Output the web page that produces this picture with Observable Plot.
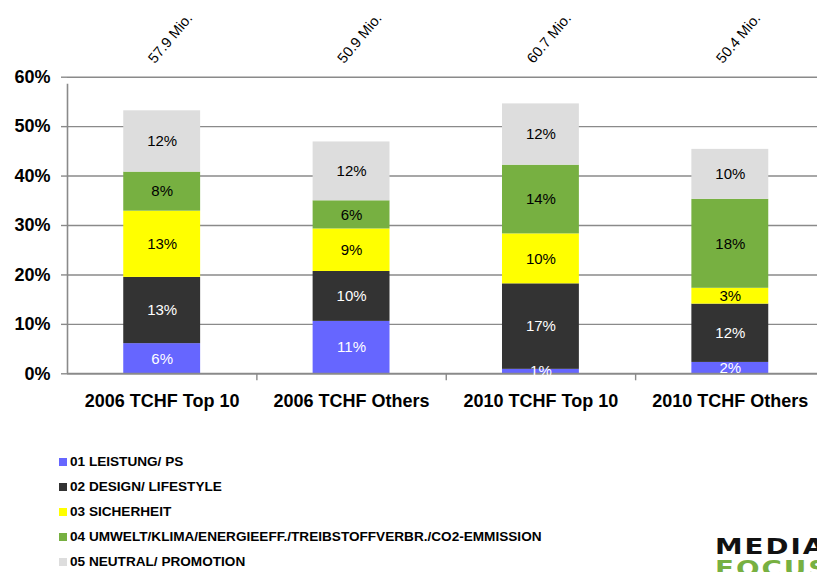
<!DOCTYPE html>
<html><head><meta charset="utf-8">
<script src="https://cdn.jsdelivr.net/npm/d3@7"></script>
<script src="https://cdn.jsdelivr.net/npm/@observablehq/plot@0.6"></script>
<style>
body{margin:0;background:#fff;font-family:"Liberation Sans",Arial,sans-serif;}
#wrap{position:relative;width:817px;height:572px;overflow:hidden;background:#fff;}
#chart{position:absolute;left:0;top:0;}
#legend{position:absolute;left:59px;top:449px;}
.item{height:25px;display:flex;align-items:center;font-size:13.6px;font-weight:bold;color:#000;white-space:nowrap;}
.sw{width:8px;height:8px;margin-right:3px;flex:none;}
.logo1{position:absolute;left:715px;top:535px;font-family:"DejaVu Sans",sans-serif;font-size:21px;letter-spacing:1.5px;color:#111;font-weight:600;transform:scaleX(1.32);transform-origin:left top;}
.logo2{position:absolute;left:715px;top:557px;font-family:"DejaVu Sans",sans-serif;font-size:21px;letter-spacing:1.5px;color:#77B041;font-weight:600;transform:scaleX(1.32);transform-origin:left top;}
</style>
</head><body>
<div id="wrap">
  <div id="chart"></div>
  <div id="legend"></div>
  <div class="logo1">MEDIA</div>
  <div class="logo2">FOCUS</div>
</div>
<script>
const categories = ["2006 TCHF Top 10", "2006 TCHF Others", "2010 TCHF Top 10", "2010 TCHF Others"];
const totals = ["57.9 Mio.", "50.9 Mio.", "60.7 Mio.", "50.4 Mio."];
const seriesNames = ["01 LEISTUNG/ PS", "02 DESIGN/ LIFESTYLE", "03 SICHERHEIT", "04 UMWELT/KLIMA/ENERGIEEFF./TREIBSTOFFVERBR./CO2-EMMISSION", "05 NEUTRAL/ PROMOTION"];
const seriesColors = ["#6666FF", "#333333", "#FFFF00", "#77B041", "#DDDDDD"];
const labelColors = ["#ffffff", "#ffffff", "#000000", "#000000", "#000000"];
const leistung = [6.1, 10.6, 0.9, 2.3];
const design = [13.4, 10.1, 17.3, 11.8];
const sicherheit = [13.4, 8.6, 10.1, 3.2];
const umwelt = [7.9, 5.7, 13.9, 18.0];
const neutral = [12.4, 11.9, 12.4, 10.1];
const yTicks = [0, 10, 20, 30, 40, 50, 60];

const seriesValues = [leistung, design, sicherheit, umwelt, neutral];
const rows = [];
categories.forEach((c, i) => {
  let acc = 0;
  seriesValues.forEach((vals, s) => {
    const v = vals[i];
    rows.push({i, cat: c, s, value: v, y1: acc, y2: acc + v});
    acc += v;
  });
});

const hw = 0.203;
const grey = "#8a8a8a";

const chart = Plot.plot({
  width: 817,
  height: 420,
  marginTop: 76.7,
  marginBottom: 46.7,
  marginLeft: 67,
  marginRight: 0,
  style: {fontFamily: "'Liberation Sans', Arial, sans-serif", background: "transparent", overflow: "visible"},
  x: {type: "linear", domain: [0, 4], range: [67, 824.5], axis: null},
  y: {domain: [0, 60], range: [373.3, 76.7], axis: null},
  marks: [
    Plot.ruleY(yTicks.filter(d => d > 0), {stroke: grey, strokeWidth: 1.4}),
    Plot.axisY({ticks: yTicks, tickFormat: d => d + "%", tickSize: 6, tickPadding: 11, fontSize: 18, fontWeight: "bold", stroke: grey, fill: "#000", strokeWidth: 1.4, label: null}),
    Plot.ruleX([0], {y1: 0, y2: 60, insetBottom: -7, stroke: grey, strokeWidth: 1.6}),
    Plot.ruleX([1, 2, 3], {y1: 0, y2: 0, insetBottom: -7, stroke: grey, strokeWidth: 1.4}),
    Plot.rect(rows, {x1: d => d.i + 0.5 - hw, x2: d => d.i + 0.5 + hw, y1: "y1", y2: "y2", fill: d => seriesColors[d.s]}),
    Plot.ruleY([0], {stroke: grey, strokeWidth: 2}),
    Plot.text(rows, {x: d => d.i + 0.5, y: d => (d.y1 + d.y2) / 2, text: d => Math.round(d.value) + "%", fill: d => labelColors[d.s], fontSize: 15}),
    Plot.text(totals, {x: (d, i) => i + 0.5, y: () => 60, text: d => d, dx: -11, dy: -16, rotate: -50, textAnchor: "start", fontSize: 14.5, fill: "#000"}),
    Plot.text(categories, {x: (d, i) => i + 0.5, y: () => 0, text: d => d, dy: 27, fontSize: 18, fontWeight: "bold", fill: "#000"})
  ]
});
document.getElementById("chart").appendChild(chart);

const legend = document.getElementById("legend");
seriesNames.forEach((name, s) => {
  const item = document.createElement("div");
  item.className = "item";
  const sw = document.createElement("span");
  sw.className = "sw";
  sw.style.background = seriesColors[s];
  const t = document.createElement("span");
  t.textContent = name;
  item.appendChild(sw);
  item.appendChild(t);
  legend.appendChild(item);
});
</script>
</body></html>
